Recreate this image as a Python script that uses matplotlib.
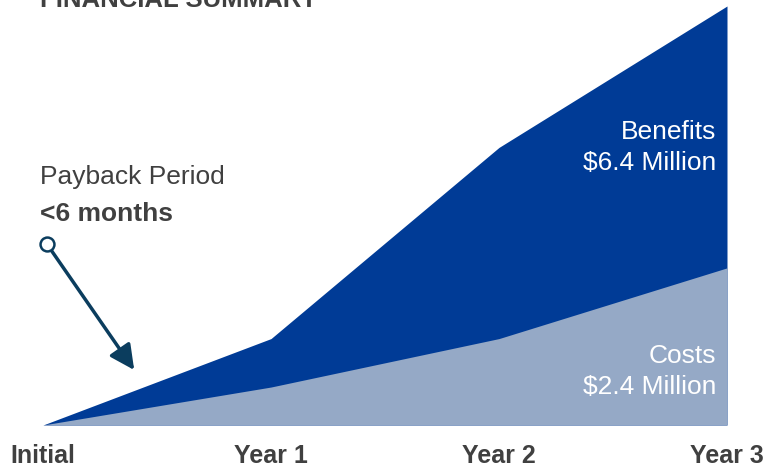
import matplotlib.pyplot as plt

# Dane (mln USD, wartości skumulowane)
periods = ["Initial", "Year 1", "Year 2", "Year 3"]
benefits = [0.0, 1.32, 4.24, 6.4]
costs = [0.0, 0.58, 1.32, 2.4]

BENEFIT_COLOR = "#003B96"
COST_COLOR = "#95A9C6"
TEXT_COLOR = "#404040"
ARROW_COLOR = "#0B3D5E"

plt.rcParams["font.family"] = ["Liberation Sans", "DejaVu Sans"]

fig = plt.figure(figsize=(7.64, 4.70), dpi=100)
ax = fig.add_axes([43 / 764, 45 / 470, 684 / 764, 419 / 470])

x = list(range(len(periods)))
ax.fill_between(x, 0, benefits, color=BENEFIT_COLOR, linewidth=0)
ax.fill_between(x, 0, costs, color=COST_COLOR, linewidth=0)

ax.set_xlim(0, 3)
ax.set_ylim(0, 6.4)
ax.set_xticks(x)
ax.set_xticklabels(periods, fontsize=18, fontweight="bold", color=TEXT_COLOR)
ax.tick_params(axis="x", length=0, pad=14)
ax.set_yticks([])
for s in ax.spines.values():
    s.set_visible(False)

# Etykiety serii
ax.text(0.984, 0.662, f"Benefits\n${benefits[-1]:.1f} Million", transform=ax.transAxes,
        ha="right", va="center", color="white", fontsize=19, linespacing=1.38)
ax.text(0.984, 0.128, f"Costs\n${costs[-1]:.1f} Million", transform=ax.transAxes,
        ha="right", va="center", color="white", fontsize=19, linespacing=1.38)

# Okres zwrotu
fig.text(40 / 764, 1 - 177 / 470, "Payback Period", ha="left", va="center",
         fontsize=19, color=TEXT_COLOR)
fig.text(40 / 764, 1 - 214 / 470, "<6 months", ha="left", va="center",
         fontsize=19, fontweight="bold", color=TEXT_COLOR)
ax.annotate("", xy=(0.40, 0.84), xytext=(0.018, 2.76),
            arrowprops=dict(arrowstyle="-|>,head_length=1.5,head_width=0.75",
                            color=ARROW_COLOR, lw=2.5, shrinkA=0, shrinkB=0),
            annotation_clip=False)
ax.plot([0.018], [2.76], marker="o", ms=10, mfc="white", mec=ARROW_COLOR,
        mew=1.8, clip_on=False, zorder=5)

# Tytuł (obcięty u góry)
fig.text(40 / 764, 1 - 0 / 470, "FINANCIAL SUMMARY", ha="left", va="center",
         fontsize=18.5, fontweight="bold", color=TEXT_COLOR)

fig.savefig("out.png", dpi=100)
